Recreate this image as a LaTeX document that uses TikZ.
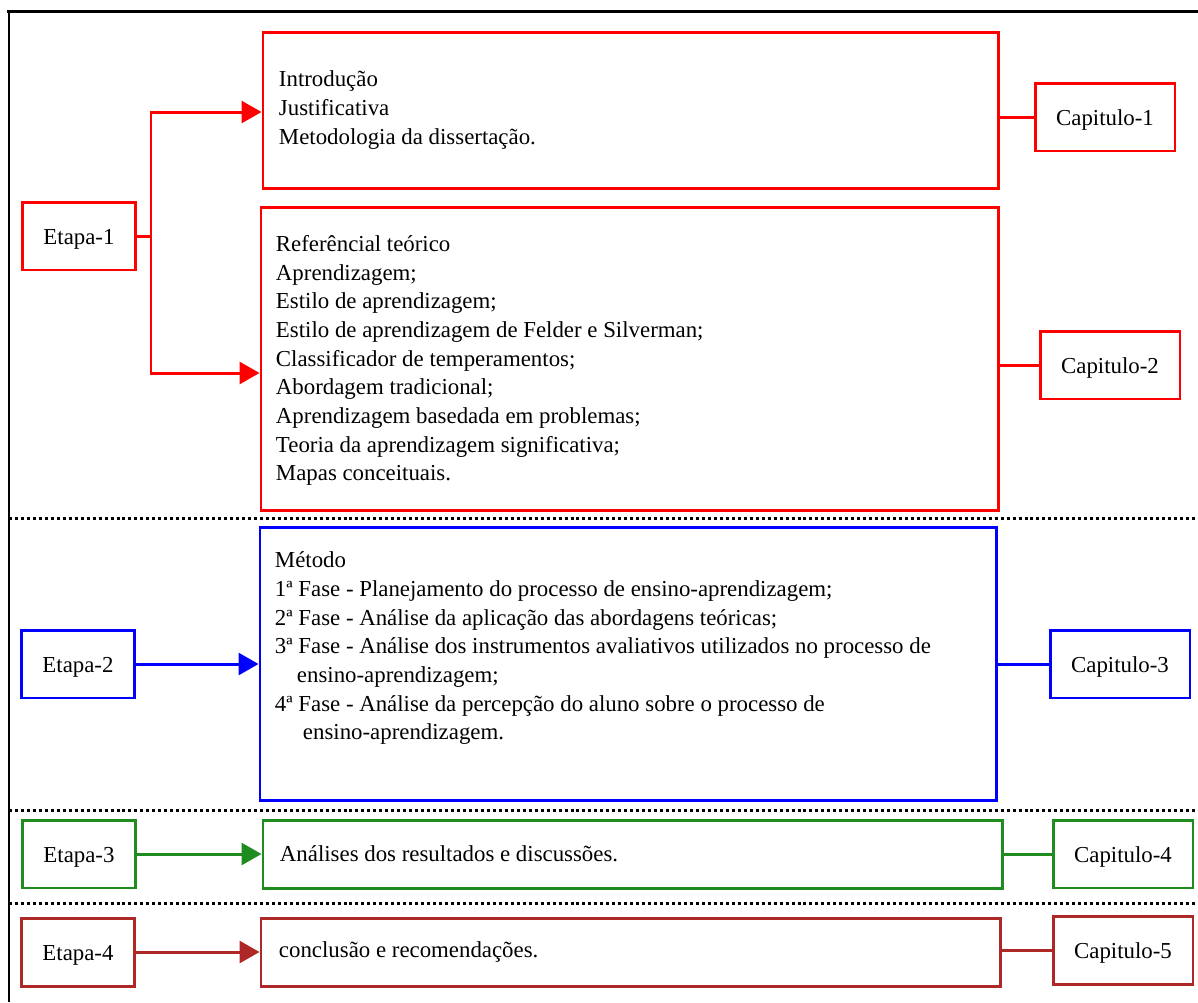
\documentclass[tikz,border=0pt]{standalone}
\usepackage{fontspec}
\setmainfont{Liberation Serif}
\usetikzlibrary{arrows.meta}

\definecolor{etapaA}{RGB}{255,0,0}
\definecolor{etapaB}{RGB}{0,0,255}
\definecolor{etapaC}{RGB}{30,140,30}
\definecolor{etapaD}{RGB}{175,40,40}

\tikzset{%
  every etapa/.style={
    draw,
    line width=1.7pt,
    minimum width=2.28cm,
    minimum height=1.36cm,
    inner sep=0pt,
    text height=12.5pt,
    text depth=3pt,
    font=\fontsize{13}{16.3}\selectfont
  },
  every capitulo/.style={
    every etapa/.try,
    minimum width=2.8cm
  },
  every bloco/.style={
    draw,
    line width=1.7pt,
    inner sep=0pt
  },
  texto/.style={
    align=left,
    inner sep=0pt,
    font=\fontsize{13}{16.3}\selectfont
  },
  divisor/.style={
    line width=1.7pt,
    dash pattern=on 1.7pt off 1.7pt
  },
}

\begin{document}
\begin{tikzpicture}[x=0.02cm, y=-0.02cm, >={Triangle[length=0.4cm,width=0.44cm]}, line width=1.7pt]
\useasboundingbox (0,0) rectangle (1198,1002);

% frame
\draw (7,11) -- (1198,11);
\draw (9,11) -- (9,1002);

\foreach \y in {518,810,903}
  \draw [divisor] (9,\y) -- (1198,\y);

\foreach \m/\c/\x/\y [count=\i] in {1/etapaA/79/236, 2/etapaB/78/664, 3/etapaC/79/854, 4/etapaD/78/952}
  \node [every etapa, draw=\c] (etapa-\m) at (\x,\y) {Etapa-\m};

\foreach \m/\c/\x/\y/\w/\h in {1/etapaA/630.5/110/735/156, 2/etapaA/629.5/358.5/737/303,
    3/etapaB/628/663.5/736/273, 4/etapaC/632.5/854/739/68, 5/etapaD/630.5/952/739/68}
  \node [every bloco, draw=\c, minimum width=\w*0.02cm, minimum height=\h*0.02cm] (bloco-\m) at (\x,\y) {};

\foreach \m/\c/\x/\y in {1/etapaA/1105/117, 2/etapaA/1110/365, 3/etapaB/1120/664, 4/etapaC/1123/854, 5/etapaD/1123/950}
  \node [every capitulo, draw=\c] (capitulo-\m) at (\x,\y) {Capitulo-\m};

% texts of the blocks
\node [texto, anchor=west] (texto-1) at ([xshift=0.32cm]bloco-1.west)
  {Introdução\\Justificativa\\Metodologia da dissertação.};
\node [texto, anchor=west] (texto-2) at ([xshift=0.3cm, yshift=-0.04cm]bloco-2.west)
  {Referêncial teórico\\Aprendizagem;\\Estilo de aprendizagem;\\Estilo de aprendizagem de Felder e Silverman;\\
   Classificador de temperamentos;\\Abordagem tradicional;\\Aprendizagem basedada em problemas;\\
   Teoria da aprendizagem significativa;\\Mapas conceituais.};
\node [texto, anchor=north west] (texto-3) at ([xshift=0.3cm, yshift=-0.5cm]bloco-3.north west)
  {Método\\1ª Fase - Planejamento do processo de ensino-aprendizagem;\\
   2ª Fase - Análise da aplicação das abordagens teóricas;\\
   3ª Fase - Análise dos instrumentos avaliativos utilizados no processo de\\
   \hspace*{0.44cm}ensino-aprendizagem;\\
   4ª Fase - Análise da percepção do aluno sobre o processo de\\
   \hspace*{0.56cm}ensino-aprendizagem.};
\node [texto, anchor=west] (texto-4) at ([xshift=0.34cm]bloco-4.west) {Análises dos resultados e discussões.};
\node [texto, anchor=west] (texto-5) at ([xshift=0.36cm]bloco-5.west) {conclusão e recomendações.};

% connectors
\coordinate (ramo) at (151,236);
\draw [etapaA] (etapa-1.east) -- (ramo);
\draw [etapaA, ->] (ramo) |- (bloco-1.west |- 0,112);
\draw [etapaA, ->] (ramo) |- (bloco-2.west |- 0,373);

\foreach \m/\n/\c in {2/3/etapaB, 3/4/etapaC, 4/5/etapaD}
  \draw [\c, ->] (etapa-\m.east) -- (bloco-\n.west |- etapa-\m);

\foreach \m/\c in {1/etapaA, 2/etapaA, 3/etapaB, 4/etapaC, 5/etapaD}
  \draw [\c] (bloco-\m.east |- capitulo-\m) -- (capitulo-\m.west);

\end{tikzpicture}
\end{document}
